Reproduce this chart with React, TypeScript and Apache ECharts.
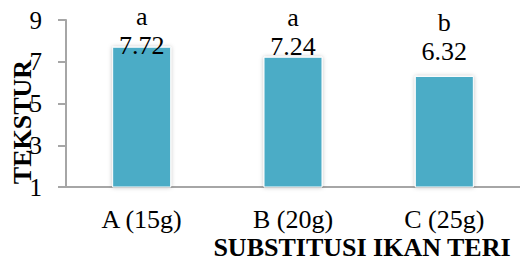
import React, { useEffect, useRef } from "react";
import * as echarts from "echarts";

const categories = ["A (15g)", "B (20g)", "C (25g)"];
const values = [7.72, 7.24, 6.32];
const letters = ["a", "a", "b"];
const yTicks = { min: 1, max: 9, interval: 2 };
const xTitle = "SUBSTITUSI IKAN TERI";
const yTitle = "TEKSTUR";

const labelOffsets = [13, 4, -10];
const FONT = "'Liberation Serif', 'Times New Roman', serif";

export default function App() {
  const ref = useRef<HTMLDivElement>(null);
  useEffect(() => {
    if (!ref.current) return;
    const chart = echarts.init(ref.current, undefined, { renderer: "svg" });
    chart.setOption({
      animation: false,
      grid: { left: 66, right: -2, top: 20, bottom: 77, containLabel: false },
      xAxis: {
        type: "category",
        data: categories,
        axisLine: { lineStyle: { color: "#a6a6a6", width: 2 } },
        axisTick: { show: false },
        axisLabel: { color: "#000", fontFamily: FONT, fontSize: 26, margin: 19 },
      },
      yAxis: {
        type: "value",
        min: yTicks.min,
        max: yTicks.max,
        interval: yTicks.interval,
        splitLine: { show: false },
        axisLine: { show: true, lineStyle: { color: "#a6a6a6", width: 2 } },
        axisTick: { show: true, inside: false, length: 8, lineStyle: { color: "#a6a6a6", width: 2 } },
        axisLabel: { color: "#000", fontFamily: FONT, fontSize: 25, margin: 24 },
      },
      graphic: [
        {
          type: "text",
          x: 22,
          y: 122,
          rotation: Math.PI / 2,
          style: {
            text: yTitle,
            fill: "#000",
            font: `bold 26px ${FONT}`,
            textAlign: "center",
            textVerticalAlign: "middle",
          },
        },
        {
          type: "text",
          x: 362,
          y: 247,
          style: {
            text: xTitle,
            fill: "#000",
            font: `bold 26px ${FONT}`,
            textAlign: "center",
            textVerticalAlign: "middle",
          },
        },
      ],
      series: [
        {
          type: "bar",
          barWidth: 59,
          data: values.map((v, i) => ({
            value: v,
            label: { offset: [0, labelOffsets[i]] },
          })),
          itemStyle: {
            color: "#4BACC6",
            borderColor: "#ffffff",
            borderWidth: 1,
            shadowColor: "rgba(0,0,0,0.25)",
            shadowBlur: 4,
          },
          label: {
            show: true,
            position: "top",
            distance: 0,
            formatter: (p: any) => `{l|${letters[p.dataIndex]}}\n{v|${p.value.toFixed(2)}}`,
            rich: {
              l: { fontFamily: FONT, fontSize: 26, color: "#000", lineHeight: 29 },
              v: { fontFamily: FONT, fontSize: 26, color: "#000", lineHeight: 29 },
            },
          },
        },
      ],
    });
    return () => chart.dispose();
  }, []);
  return <div ref={ref} style={{ width: 520, height: 264, position: "absolute", left: 0, top: 0 }} />;
}
